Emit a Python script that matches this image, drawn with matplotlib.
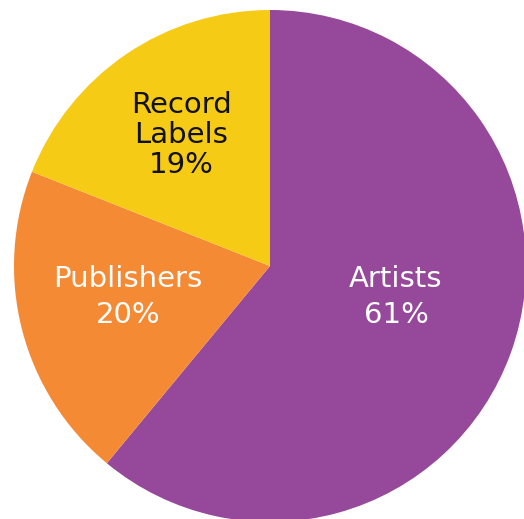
import matplotlib
matplotlib.use("Agg")
import matplotlib.pyplot as plt

categories = ["Artists", "Publishers", "Record\nLabels"]
values = [61, 20, 19]
colors = ["#96499A", "#F58A35", "#F6CB16"]
text_colors = ["white", "white", "#111111"]

W, H = 524, 519
fig = plt.figure(figsize=(W / 100, H / 100), dpi=100)
ax = fig.add_axes([0, 0, 1, 1])
ax.pie(values, colors=colors, startangle=90, counterclock=False,
       center=(270, H - 266), radius=256,
       wedgeprops=dict(linewidth=0))
ax.set_xlim(0, W)
ax.set_ylim(0, H)
ax.set_aspect("equal")
ax.axis("off")

label_pos = [(396, H - 297), (128, H - 297), (181, H - 135)]
spacing = [1.34, 1.34, 1.07]
for cat, v, (x, y), tc, ls in zip(categories, values, label_pos, text_colors, spacing):
    ax.text(x, y, f"{cat}\n{v}%", ha="center", va="center", color=tc,
            fontsize=21, family="DejaVu Sans", linespacing=ls)

fig.savefig("out.png", dpi=100)
